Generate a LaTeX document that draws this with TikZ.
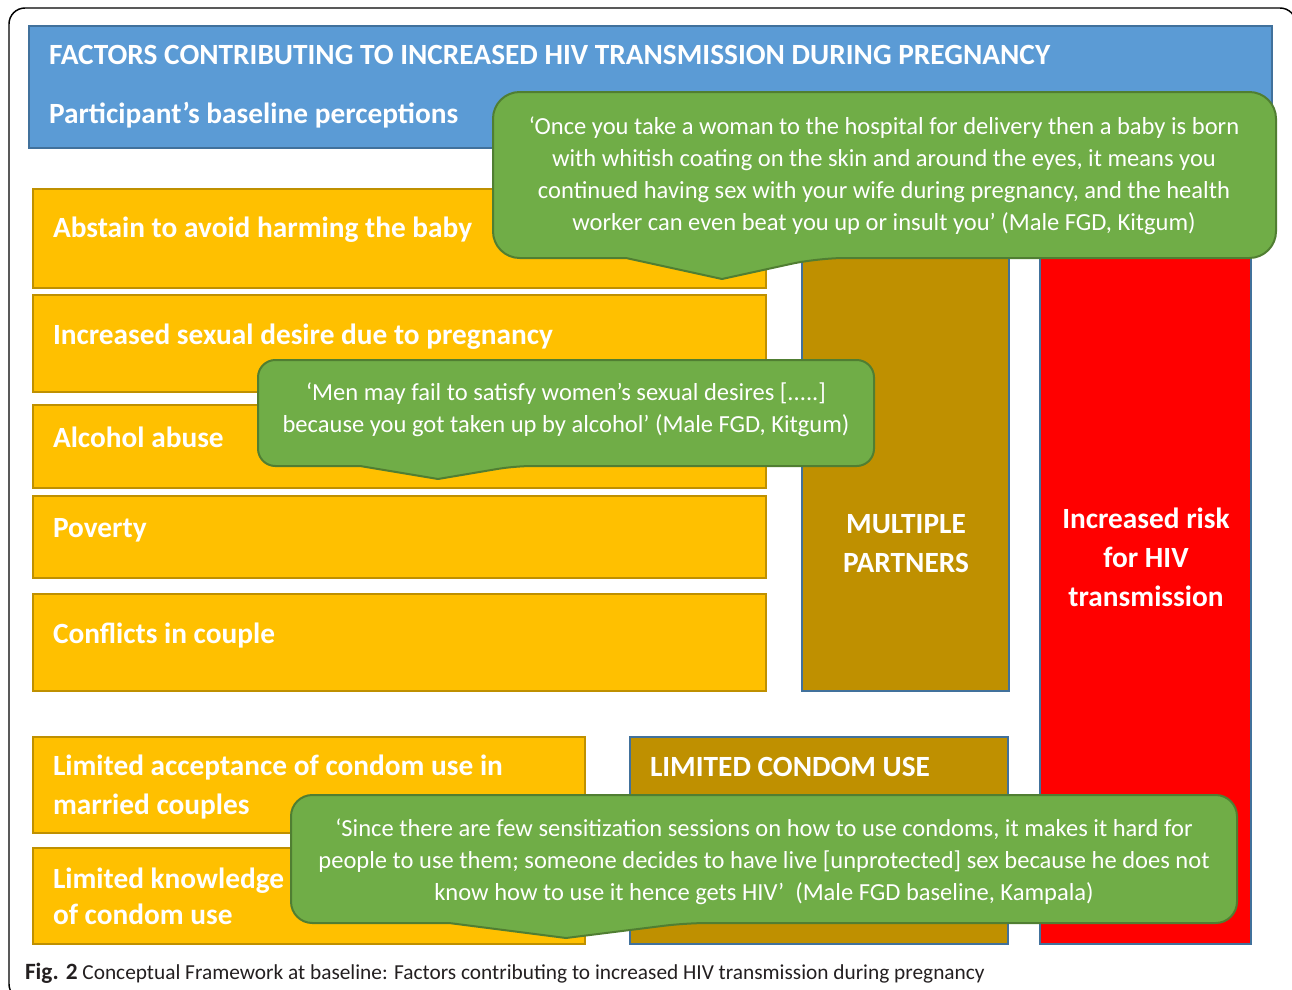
\documentclass[tikz,border=0pt]{standalone}
\usepackage{fontspec}
\setmainfont{Carlito}
\usetikzlibrary{fit}
\definecolor{hdrblue}{HTML}{5B9BD5}
\definecolor{hdrline}{HTML}{41719C}
\definecolor{ybox}{HTML}{FFC000}
\definecolor{yline}{HTML}{BF9000}
\definecolor{brown}{HTML}{BF9000}
\definecolor{cgreen}{HTML}{70AD47}
\definecolor{cline}{HTML}{507E32}
\definecolor{capgray}{HTML}{231F20}
\tikzset{
  every node/.style={inner sep=0pt, outer sep=0pt},
  hdrbox/.style={draw=hdrline, fill=hdrblue, line width=1.5pt},
  yelbox/.style={draw=yline, fill=ybox, line width=1.6pt},
  brnbox/.style={draw=hdrline, fill=brown, line width=1.3pt},
  redbox/.style={draw=hdrline, fill=red, line width=1.3pt},
  callout/.style={draw=cline, fill=cgreen, line width=1.5pt, line join=round},
  boxtxt/.style={font=\bfseries\fontsize{22}{26}\selectfont, text=white, anchor=base west},
  boxctr/.style={font=\bfseries\fontsize{22}{26}\selectfont, text=white, anchor=base},
  quote/.style={font=\fontsize{18.4}{22}\selectfont, text=white, anchor=base},
}
\begin{document}
\begin{tikzpicture}[x=0.75pt, y=-0.75pt]
\useasboundingbox (0,0) rectangle (1292,989);
% outer frame
\begin{scope}
\clip (0,0) rectangle (1292,989);
\draw[line width=1.1pt, rounded corners=12pt] (9,8) rectangle (1296,1000);
\end{scope}
% header
\node[hdrbox, fit={(29,26)(1272,148)}] (hdr) {};
\node[boxtxt] (hdrA) at (49,64) {FACTORS CONTRIBUTING TO INCREASED HIV TRANSMISSION DURING PREGNANCY};
\node[boxtxt] (hdrB) at (49,123) {Participant’s baseline perceptions};
% factor boxes
\node[yelbox, fit={(33,189)(766,288)}] (f1) {};
\node[yelbox, fit={(33,295)(766,392)}] (f2) {};
\node[yelbox, fit={(33,405)(766,488)}] (f3) {};
\node[yelbox, fit={(33,496)(766,578)}] (f4) {};
\node[yelbox, fit={(33,594)(766,691)}] (f5) {};
\node[yelbox, fit={(33,737)(585,833)}] (f6) {};
\node[yelbox, fit={(33,848)(585,944)}] (f7) {};
\node[boxtxt] (t1) at (53,237) {Abstain to avoid harming the baby};
\node[boxtxt] (t2) at (53,344) {Increased sexual desire due to pregnancy};
\node[boxtxt] (t3) at (53,447) {Alcohol abuse};
\node[boxtxt] (t4) at (53,537) {Poverty};
\node[boxtxt] (t5) at (53,643) {Conflicts in couple};
\node[boxtxt] (t6a) at (53,775) {Limited acceptance of condom use in};
\node[boxtxt] (t6b) at (53,814) {married couples};
\node[boxtxt] (t7a) at (53,888) {Limited knowledge};
\node[boxtxt] (t7b) at (53,924) {of condom use};
% outcome boxes
\node[brnbox, fit={(802,240)(1009,691)}] (mp) {};
\node[redbox, fit={(1040,240)(1251,944)}] (risk) {};
\node[brnbox, fit={(630,737)(1008,944)}] (lcu) {};
\node[boxctr] (mpA) at (906,533) {MULTIPLE};
\node[boxctr] (mpB) at (906,572) {PARTNERS};
\node[boxctr] (rA) at (1146,528) {Increased risk};
\node[boxctr] (rB) at (1146,567) {for HIV};
\node[boxctr] (rC) at (1146,606) {transmission};
\node[boxtxt] (lcuT) at (650,776) {LIMITED CONDOM USE};
% callout 1
\draw[callout, rounded corners=20pt] (626,258) -- (493,258) -- (493,92) -- (1276,92) -- (1276,258) -- (818,258) [sharp corners] -- (722,279) -- cycle;
\node[quote] (q1a) at (884,134) {‘Once you take a woman to the hospital for delivery then a baby is born};
\node[quote] (q1b) at (884,166) {with whitish coating on the skin and around the eyes, it means you};
\node[quote] (q1c) at (884,198) {continued having sex with your wife during pregnancy, and the health};
\node[quote] (q1d) at (884,230) {worker can even beat you up or insult you’ (Male FGD, Kitgum)};
% callout 2
\draw[callout, rounded corners=13pt] (360,466) -- (258,466) -- (258,360) -- (874,360) -- (874,466) -- (515,466) [sharp corners] -- (438,479) -- cycle;
\node[quote] (q2a) at (566,400) {‘Men may fail to satisfy women’s sexual desires [.....]};
\node[quote] (q2b) at (566,432) {because you got taken up by alcohol’ (Male FGD, Kitgum)};
% callout 3
\draw[callout, rounded corners=16pt] (449,923) -- (291,923) -- (291,795) -- (1237,795) -- (1237,923) -- (686,923) [sharp corners] -- (566,938) -- cycle;
\node[quote] (q3a) at (764,836) {‘Since there are few sensitization sessions on how to use condoms, it makes it hard for};
\node[quote] (q3b) at (764,868) {people to use them; someone decides to have live [unprotected] sex because he does not};
\node[quote] (q3c) at (764,900) {know how to use it hence gets HIV’~~(Male FGD baseline, Kampala)};
% caption
\node[anchor=base west, text=capgray, font=\fontsize{16}{19}\selectfont] (cap) at (25,979) {\textbf{\fontsize{17.5}{19}\selectfont Fig. 2} Conceptual Framework at baseline: Factors contributing to increased HIV transmission during pregnancy};
\end{tikzpicture}
\end{document}
